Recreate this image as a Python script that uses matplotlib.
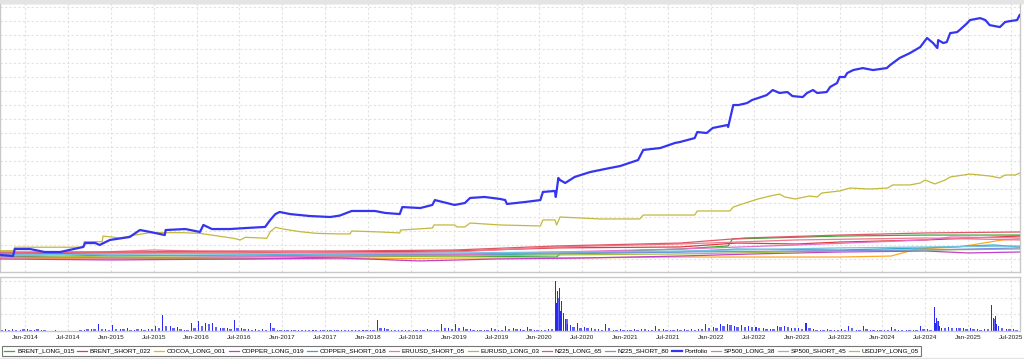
import matplotlib
matplotlib.use("Agg")
import matplotlib.pyplot as plt
import numpy as np

plt.rcParams['font.family'] = ['Liberation Sans', 'DejaVu Sans']

# time in decimal years, equity in %
portfolio_t = [2013.71, 2013.86, 2013.88, 2014.06, 2014.23, 2014.41, 2014.68, 2014.70, 2014.82, 2014.87,
               2014.99, 2015.22, 2015.34, 2015.46, 2015.63, 2015.64, 2015.87, 2016.04, 2016.08, 2016.18,
               2016.39, 2016.57, 2016.80, 2016.86, 2016.92, 2016.97, 2017.09, 2017.32, 2017.56, 2017.67,
               2017.81, 2018.08, 2018.20, 2018.37, 2018.40, 2018.61, 2018.75, 2018.78, 2019.01, 2019.13,
               2019.19, 2019.36, 2019.54, 2019.60, 2019.62, 2019.83, 2020.01, 2020.04, 2020.18, 2020.19,
               2020.22, 2020.24, 2020.30, 2020.41, 2020.59, 2020.82, 2020.94, 2021.15, 2021.21, 2021.41,
               2021.58, 2021.64, 2021.81, 2021.84, 2021.95, 2022.02, 2022.19, 2022.20, 2022.26, 2022.32,
               2022.42, 2022.48, 2022.55, 2022.65, 2022.72, 2022.80, 2022.89, 2022.95, 2023.07, 2023.12,
               2023.19, 2023.24, 2023.35, 2023.39, 2023.47, 2023.50, 2023.56, 2023.59, 2023.66, 2023.77,
               2023.89, 2024.05, 2024.09, 2024.20, 2024.32, 2024.44, 2024.52, 2024.59, 2024.64, 2024.65,
               2024.71, 2024.75, 2024.79, 2024.87, 2024.90, 2024.99, 2025.02, 2025.14, 2025.20, 2025.25,
               2025.37, 2025.43, 2025.49, 2025.57, 2025.60]
portfolio_v = [2.9, 2.1, 7.1, 7.1, 5.0, 5.0, 8.6, 11.4, 11.4, 10.0,
               13.6, 15.7, 20.7, 19.3, 17.1, 20.7, 21.4, 19.3, 24.3, 21.4,
               21.4, 22.1, 22.9, 27.9, 32.1, 33.6, 32.1, 30.7, 30.0, 31.0,
               34.3, 34.3, 32.9, 32.1, 37.1, 36.4, 38.6, 42.1, 38.6, 40.0,
               43.6, 44.3, 42.9, 42.1, 39.3, 40.7, 42.1, 47.9, 48.6, 44.3,
               57.9, 56.4, 54.3, 58.6, 62.1, 65.0, 66.4, 70.7, 77.9, 79.3,
               82.9, 83.6, 86.4, 90.7, 90.0, 93.6, 95.7, 94.3, 110.0, 110.0,
               111.4, 113.6, 115.0, 117.1, 120.7, 118.6, 119.3, 116.4, 115.7, 118.6,
               120.7, 118.6, 119.3, 122.9, 125.7, 130.0, 130.0, 132.9, 135.0, 136.4,
               135.0, 136.4, 138.6, 143.6, 147.1, 151.4, 157.9, 154.3, 150.7, 156.4,
               154.3, 155.0, 161.4, 162.1, 163.6, 168.6, 170.7, 172.1, 170.7, 167.1,
               165.7, 169.3, 170.0, 170.7, 174.3]

usdjpy_t = [2013.71, 2013.87, 2013.88, 2014.68, 2014.69, 2014.90, 2014.91, 2015.11, 2015.28, 2015.46,
            2015.84, 2016.04, 2016.43, 2016.51, 2016.57, 2016.82, 2016.86, 2016.92, 2017.01, 2017.21,
            2017.40, 2017.67, 2017.79, 2017.81, 2018.14, 2018.37, 2018.38, 2018.75, 2018.77, 2019.01,
            2019.04, 2019.13, 2019.19, 2019.54, 2020.01, 2020.04, 2020.18, 2020.20, 2020.24, 2020.71,
            2021.17, 2021.21, 2021.81, 2021.84, 2022.22, 2022.26, 2022.40, 2022.55, 2022.69, 2022.80,
            2022.86, 2022.98, 2023.15, 2023.24, 2023.29, 2023.50, 2023.62, 2023.85, 2024.06, 2024.12,
            2024.32, 2024.44, 2024.50, 2024.61, 2024.73, 2024.79, 2025.02, 2025.25, 2025.37, 2025.43,
            2025.55, 2025.60]
usdjpy_v = [5.9, 5.9, 8.4, 8.4, 12.4, 12.4, 16.4, 15.0, 17.1, 18.8,
            18.8, 18.3, 14.8, 13.6, 15.5, 14.8, 19.5, 22.6, 21.4, 19.5,
            18.3, 17.9, 17.9, 20.0, 19.3, 18.6, 20.7, 22.1, 24.3, 24.3,
            22.9, 22.9, 25.7, 24.3, 23.6, 27.9, 27.9, 24.3, 30.0, 28.6,
            28.6, 31.4, 31.4, 34.3, 34.3, 37.1, 40.0, 42.9, 45.0, 46.4,
            44.3, 42.9, 45.0, 44.3, 47.1, 48.6, 50.7, 50.0, 50.7, 52.9,
            52.9, 54.3, 56.4, 53.6, 56.4, 58.6, 60.7, 59.3, 57.9, 60.0,
            60.0, 61.4]

brent_long_t = [2013.71, 2015.0, 2016.5, 2017.67, 2019.0, 2020.2, 2020.25, 2021.64, 2022.2, 2022.25, 2023.5, 2024.5, 2025.6]
brent_long_v = [2.1, 0.7, 0.0, 1.4, 2.1, 1.4, 4.3, 7.1, 9.3, 14.3, 16.4, 17.1, 17.1]

brent_short_t = [2013.71, 2015.0, 2016.5, 2017.67, 2019.0, 2020.2, 2021.64, 2022.3, 2023.0, 2023.5, 2024.5, 2025.6]
brent_short_v = [3.6, 4.3, 4.3, 5.0, 5.7, 7.9, 8.6, 11.4, 10.7, 12.1, 13.6, 16.4]

cocoa_t = [2013.71, 2015.0, 2016.5, 2017.67, 2019.0, 2020.2, 2021.64, 2022.5, 2023.5, 2024.1, 2024.4, 2024.9, 2025.4, 2025.6]
cocoa_v = [0.7, 0.0, 0.0, 0.0, 0.7, 0.7, 1.4, 1.4, 1.4, 2.1, 7.1, 8.6, 13.6, 14.3]

copper_long_t = [2013.71, 2015.0, 2016.5, 2017.67, 2018.6, 2019.5, 2020.5, 2021.64, 2022.5, 2023.5, 2024.5, 2025.0, 2025.6]
copper_long_v = [0.0, -0.7, 0.0, 0.7, -1.4, 0.0, 0.7, 2.1, 3.6, 5.0, 5.7, 4.3, 5.0]

copper_short_t = [2013.71, 2015.0, 2016.5, 2017.67, 2019.0, 2020.2, 2021.64, 2022.3, 2023.5, 2024.5, 2025.3, 2025.6]
copper_short_v = [4.3, 2.1, 2.9, 3.6, 2.9, 3.6, 5.0, 7.1, 6.4, 7.9, 10.0, 8.6]

eruusd_short_t = [2013.71, 2014.9, 2015.5, 2016.0, 2017.67, 2019.0, 2020.2, 2021.64, 2023.0, 2024.5, 2025.6]
eruusd_short_v = [4.3, 5.0, 6.4, 5.7, 4.3, 5.0, 8.6, 10.7, 13.6, 15.0, 13.6]

eurusd_long_t = [2013.71, 2015.0, 2016.5, 2017.67, 2019.0, 2020.2, 2021.64, 2023.5, 2025.6]
eurusd_long_v = [2.9, 1.4, 1.4, 2.1, 2.1, 2.9, 3.6, 5.7, 7.1]

n225_long_t = [2013.71, 2015.0, 2016.5, 2017.67, 2019.0, 2020.2, 2021.64, 2022.4, 2023.5, 2024.5, 2025.6]
n225_long_v = [5.0, 5.0, 5.7, 5.7, 6.4, 9.3, 11.4, 15.0, 17.1, 18.6, 19.3]

n225_short_t = [2013.71, 2015.0, 2016.5, 2017.67, 2019.0, 2020.2, 2021.64, 2023.0, 2024.5, 2025.6]
n225_short_v = [3.6, 2.9, 2.1, 2.9, 3.6, 4.3, 5.0, 5.7, 6.4, 7.9]

sp500_long_t = [2013.71, 2015.0, 2016.5, 2017.67, 2019.0, 2020.2, 2021.64, 2023.0, 2024.5, 2024.8, 2025.6]
sp500_long_v = [1.4, 0.7, 1.4, 2.1, 2.9, 5.0, 7.1, 10.0, 13.6, 15.7, 15.0]

sp500_short_t = [2013.71, 2015.0, 2016.5, 2017.67, 2019.0, 2020.2, 2021.64, 2023.5, 2025.6]
sp500_short_v = [2.9, 3.6, 3.6, 3.6, 4.3, 5.0, 5.7, 7.9, 9.3]

# lower panel: one value per month from Sep-2013 to Aug-2025
month_start = 2013 + 8 / 12
exposure_month = [
    0.6, 0.5, 0.7, 0.4,
    0.5, 0.4, 0.3, 0.0, 0.3, 0.0, 0.0, 0.0, 0.4, 0.6, 2.0, 0.6,
    1.8, 0.6, 0.8, 0.4, 0.5, 0.6, 1.5, 4.7, 1.6, 1.2, 0.3, 2.3,
    3.0, 2.5, 2.4, 1.0, 0.8, 3.3, 0.8, 0.6, 0.5, 0.6, 2.3, 0.4,
    0.3, 0.2, 0.3, 0.2, 0.3, 0.4, 0.2, 0.2, 0.3, 0.2, 0.3, 0.3,
    0.4, 3.3, 1.0, 0.4, 0.3, 0.3, 0.2, 0.3, 0.5, 0.4, 2.0, 1.0,
    2.2, 1.2, 0.5, 0.4, 0.3, 1.0, 0.4, 1.5, 0.8, 0.5, 1.3, 0.4,
    0.3, 0.6, 15.0, 5.5, 1.8, 2.5, 1.2, 0.8, 0.6, 2.0, 0.4, 0.5,
    0.4, 0.5, 0.6, 0.3, 1.5, 0.5, 0.4, 0.6, 0.5, 0.5, 0.6, 2.0,
    1.2, 2.0, 2.2, 1.5, 1.8, 1.6, 1.2, 0.8, 0.6, 1.5, 1.6, 1.0,
    0.8, 2.3, 0.6, 0.4, 0.5, 0.3, 0.5, 1.5, 0.4, 1.4, 0.3, 0.4,
    0.3, 1.3, 0.4, 0.4, 0.4, 1.5, 0.5, 7.2, 1.0, 1.2, 1.0, 0.8,
    1.0, 0.5, 0.7, 7.8, 1.5, 0.6, 0.5, 1.5,
]
# mid-month background level, same months
exposure_mid = [
    0.3, 0.4, 0.3, 0.5,
    0.3, 0.6, 0.2, 0.0, 0.0, 0.0, 0.0, 0.3, 0.5, 0.7, 0.6, 0.4,
    0.6, 0.5, 0.4, 0.6, 0.3, 0.5, 0.8, 1.4, 1.0, 0.6, 0.4, 1.0,
    1.6, 2.0, 1.2, 0.8, 0.6, 1.0, 0.5, 0.4, 0.3, 0.4, 0.8, 0.3,
    0.2, 0.3, 0.2, 0.3, 0.2, 0.2, 0.3, 0.2, 0.2, 0.3, 0.2, 0.2,
    0.3, 1.0, 0.6, 0.3, 0.2, 0.2, 0.3, 0.2, 0.3, 0.3, 0.8, 0.5,
    0.8, 0.6, 0.3, 0.3, 0.4, 0.5, 0.3, 0.6, 0.5, 0.3, 0.6, 0.3,
    0.4, 0.5, 10.0, 3.5, 1.2, 1.0, 0.8, 0.6, 0.4, 0.8, 0.3, 0.4,
    0.3, 0.4, 0.5, 0.3, 0.7, 0.4, 0.3, 0.4, 0.3, 0.4, 0.5, 0.8,
    0.9, 1.6, 1.8, 1.2, 1.3, 1.2, 0.9, 0.6, 0.5, 1.2, 1.3, 0.8,
    0.6, 0.9, 0.4, 0.3, 0.4, 0.3, 0.4, 0.8, 0.3, 0.6, 0.3, 0.3,
    0.3, 0.6, 0.3, 0.3, 0.3, 0.7, 0.4, 3.0, 0.8, 0.9, 0.8, 0.6,
    0.6, 0.4, 0.5, 3.5, 1.0, 0.5, 0.4, 0.8,
]
spike_t = [2020.19, 2020.20, 2020.21, 2020.23, 2020.24, 2020.26, 2020.28, 2020.30, 2020.33,
           2024.62, 2024.63, 2024.65, 2024.67,
           2025.29, 2025.30, 2025.32, 2025.33, 2025.35]
spike_v = [10.0, 8.5, 12.0, 13.0, 6.0, 9.0, 4.5, 3.5, 2.0,
           2.5, 4.0, 3.0, 1.5,
           4.0, 3.0, 4.5, 2.0, 1.5]

series = [
    ("BRENT_LONG_015", brent_long_t, brent_long_v, "#3aa83a"),
    ("BRENT_SHORT_022", brent_short_t, brent_short_v, "#e03c3c"),
    ("COCOA_LONG_001", cocoa_t, cocoa_v, "#ffa726"),
    ("COPPER_LONG_019", copper_long_t, copper_long_v, "#c040c8"),
    ("COPPER_SHORT_018", copper_short_t, copper_short_v, "#30a8d0"),
    ("ERUUSD_SHORT_05", eruusd_short_t, eruusd_short_v, "#f07890"),
    ("EURUSD_LONG_03", eurusd_long_t, eurusd_long_v, "#a8c040"),
    ("N225_LONG_65", n225_long_t, n225_long_v, "#e05868"),
    ("N225_SHORT_80", n225_short_t, n225_short_v, "#7f90dc"),
    ("Portfolio", portfolio_t, portfolio_v, "#3535f0"),
    ("SP500_LONG_38", sp500_long_t, sp500_long_v, "#e070c8"),
    ("SP500_SHORT_45", sp500_short_t, sp500_short_v, "#70c4e0"),
    ("USDJPY_LONG_05", usdjpy_t, usdjpy_v, "#c4b83c"),
]

years = list(range(2014, 2026))
tick_pos = []
tick_lab = []
for y in years:
    tick_pos += [y, y + 0.5]
    tick_lab += ["Jan-%d" % y, "Jul-%d" % y]

W, H = 1024, 359
fig = plt.figure(figsize=(W / 100, H / 100), dpi=100)
fig.patches.append(plt.Rectangle((0, 1 - 3 / H), 1, 3 / H, transform=fig.transFigure,
                                 color="#e4e4e4", zorder=0))
fig.patches.append(plt.Rectangle((0, 0), 1, 1.5 / H, transform=fig.transFigure,
                                 color="#e4e4e4", zorder=0))

ax = fig.add_axes([0, (H - 272) / H, 1020 / W, 269 / H])
ax2 = fig.add_axes([0, (H - 331) / H, 1020 / W, 54 / H], sharex=ax)

for name, t, v, c in series:
    if name == "Portfolio":
        ax.plot(t, v, color=c, lw=1.6, label=name, zorder=5)
    else:
        ax.plot(t, v, color=c, lw=0.9, label=name, zorder=3)

m_t = month_start + (np.arange(len(exposure_month)) + 0.3) / 12
mid_t = month_start + (np.arange(len(exposure_mid)) + 0.75) / 12
ax2.bar(m_t, exposure_month, width=0.012, color="#2a2af0", lw=0)
ax2.bar(mid_t, exposure_mid, width=0.03, color="#4a4af5", lw=0, alpha=0.85)
ax2.bar(spike_t, spike_v, width=0.012, color="#2a2af0", lw=0)

ax.set_xlim(2013.708, 2025.604)
ax.set_ylim(-9.3, 182.9)
ax2.set_ylim(0, 16.2)

for a in (ax, ax2):
    a.set_xticks(tick_pos)
    a.grid(True, color="#e2e2e2", lw=0.8, ls=(0, (2, 2)))
    a.set_axisbelow(True)
    a.tick_params(length=0, labelleft=False, left=False)
    for s in a.spines.values():
        s.set_color("#c8c8c8")
        s.set_linewidth(1.0)
ax.set_yticks(np.arange(0, 181, 10))
ax2.set_yticks([5, 10, 15])
ax.tick_params(labelbottom=False)
ax2.set_xticklabels(tick_lab, fontsize=4.6, color="#222222")
ax2.tick_params(axis="x", pad=3)

leg = fig.legend(*ax.get_legend_handles_labels(), loc="center left",
                 bbox_to_anchor=(2 / W, (H - 351) / H), ncol=13, fontsize=4.6,
                 frameon=True, fancybox=False, edgecolor="#555555",
                 handlelength=1.6, handletextpad=0.4, columnspacing=0.42,
                 borderpad=0.35, borderaxespad=0)
leg.get_frame().set_linewidth(0.8)

fig.savefig("out.png", dpi=100)
